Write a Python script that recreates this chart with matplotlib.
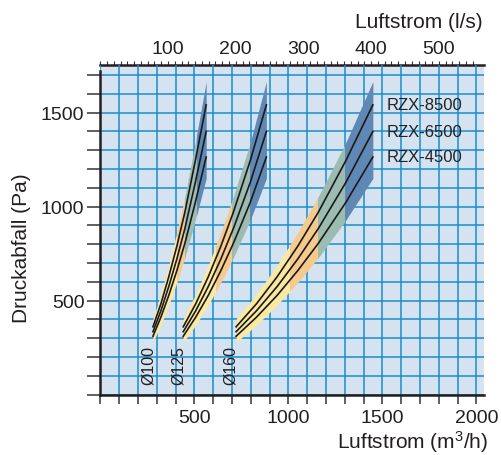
import numpy as np
import matplotlib
matplotlib.use('Agg')
import matplotlib.pyplot as plt
from matplotlib.patches import Rectangle
from matplotlib.ticker import MultipleLocator, FixedLocator

plt.rcParams['font.family'] = ['Liberation Sans', 'DejaVu Sans']
plt.rcParams['mathtext.default'] = 'regular'

# Luftstrom (m3/h) entlang der Kurven, pro Rohrdurchmesser
q100 = [280, 322, 364, 407, 450, 505, 563]
q125 = [441, 507, 574, 641, 708, 797, 883]
q160 = [722, 830, 940, 1050, 1160, 1305, 1449]

# Druckabfall (Pa) der drei Modelle an diesen Punkten
p8500 = [361, 483, 627, 790, 972, 1244, 1541]
p6500 = [335, 446, 575, 722, 885, 1128, 1400]
p4500 = [311, 412, 528, 660, 806, 1022, 1264]

# farbiges Band um die Kurven
band_lo = [279, 370, 477, 597, 730, 928, 1150]
band_hi = [403, 535, 688, 862, 1055, 1340, 1665]

# Grenzen der Farbzonen (m3/h)
zonen100 = [280, 410, 452, 515, 563]
zonen125 = [441, 619, 702, 796, 883]
zonen160 = [722, 1013, 1160, 1305, 1449]

durchmesser = ['Ø100', 'Ø125', 'Ø160']
durchmesser_x = [255, 414, 693]
modelle = ['RZX-8500', 'RZX-6500', 'RZX-4500']

farben = ['#fbe8a1', '#f6c98d', '#9dbcb1', '#6088b4']
textfarbe = '#231f20'

fig = plt.figure(figsize=(5.01, 4.56), dpi=100)
ax = fig.add_axes([0.2002, 0.1322, 0.7659, 0.7230])
ax.set_xlim(0, 2040)
ax.set_ylim(0, 1753)
ax.set_facecolor('#d5e2ef')
ax.set_axisbelow(True)

ax.xaxis.set_major_locator(FixedLocator([500, 1000, 1500, 2000]))
ax.xaxis.set_minor_locator(MultipleLocator(100))
ax.yaxis.set_major_locator(FixedLocator([500, 1000, 1500]))
ax.yaxis.set_minor_locator(MultipleLocator(100))
ax.grid(True, which='both', color='#1a8ccc', lw=1.1)

ax.tick_params(axis='x', which='both', direction='out', length=6.5, width=1.1,
               color='#333333', labelsize=14, pad=4, labelcolor=textfarbe)
ax.tick_params(axis='y', which='both', direction='out', length=9.4, width=1.1,
               color='#333333', labelsize=14, pad=2, labelcolor=textfarbe)

for s in ['top', 'right']:
    ax.spines[s].set_visible(False)
for s in ['left', 'bottom']:
    ax.spines[s].set_linewidth(1.8)
    ax.spines[s].set_color(textfarbe)
ax.spines['left'].set_bounds(0, 1720)

# obere Achse in l/s
sec = ax.secondary_xaxis('top', functions=(lambda x: x / 3.6, lambda x: x * 3.6))
sec.xaxis.set_major_locator(FixedLocator([100, 200, 300, 400, 500]))
sec.xaxis.set_minor_locator(FixedLocator(np.arange(0, 551, 10)))
sec.tick_params(which='both', direction='out', length=3, width=0.8, color='#333333',
                labelsize=14, pad=3, labelcolor=textfarbe)
sec.spines['top'].set_linewidth(1.8)
sec.spines['top'].set_color(textfarbe)

for q, zonen in zip([q100, q125, q160], [zonen100, zonen125, zonen160]):
    for i, c in enumerate(farben):
        x0 = zonen[i] - (2 if i > 0 else 0)
        x1 = zonen[i + 1]
        flaeche = ax.fill_between(q, band_lo, band_hi, color=c, lw=0, zorder=2)
        flaeche.set_clip_path(Rectangle((x0, 0), x1 - x0, 2000, transform=ax.transData))
    for p in [p8500, p6500, p4500]:
        ax.plot(q, p, color='#1a1a1a', lw=1.2, zorder=3)

for name, x in zip(durchmesser, durchmesser_x):
    ax.text(x, 55, name, rotation=90, ha='center', va='bottom', fontsize=11.5,
            color=textfarbe, zorder=4)

for name, p in zip(modelle, [p8500[-1], p6500[-1], p4500[-1]]):
    ax.text(1522, p, name, ha='left', va='center', fontsize=12,
            color='#222222', zorder=4)

fig.text(0.042, 0.456, 'Druckabfall (Pa)', rotation=90, ha='center', va='center',
         fontsize=15, color=textfarbe)
fig.text(0.974, 0.016, 'Luftstrom (m$^3$/h)', ha='right', va='baseline',
         fontsize=15, color=textfarbe)
fig.text(0.9627, 0.9496, 'Luftstrom (l/s)', ha='right', va='center',
         fontsize=15, color=textfarbe)

fig.savefig('out.png', dpi=100)
